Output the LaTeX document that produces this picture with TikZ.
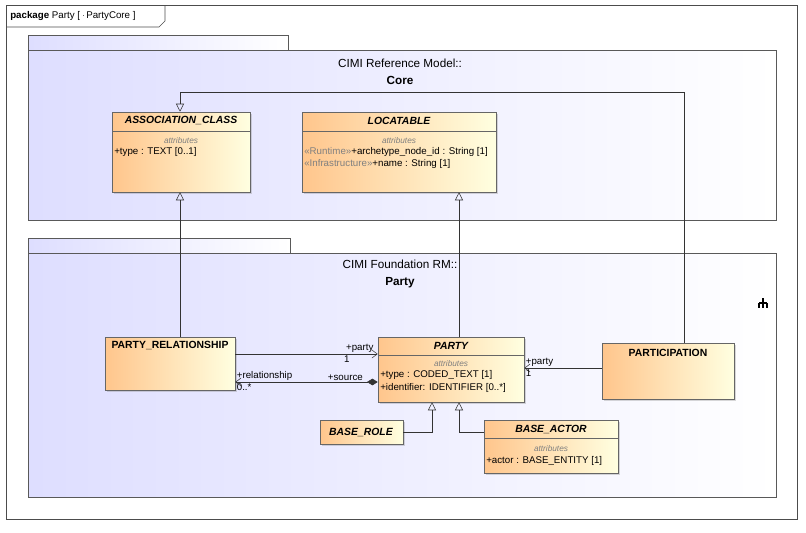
\documentclass[tikz,border=0pt]{standalone}
\usepackage{fontspec}
\setmainfont{Liberation Sans}
\usetikzlibrary{arrows.meta, positioning, fit, shadows}

\tikzset{
  pkg/.style={draw=gray!70!black, left color=blue!13, right color=white, inner sep=0},
  cls/.style={draw=black!60, left color=orange!45, right color=yellow!12, inner sep=0,
    drop shadow={opacity=0.3, shadow xshift=1.5pt, shadow yshift=-1.5pt}},
  cname/.style={font=\fontsize{7.8}{9}\selectfont\bfseries\itshape},
  attr/.style={font=\fontsize{7.3}{8.5}\selectfont, inner sep=0, anchor=west},
  stereo/.style={font=\fontsize{6.2}{7}\selectfont\itshape, text=gray},
  lbl/.style={font=\fontsize{7.3}{8.5}\selectfont, inner sep=1pt},
  gen/.style={-{Triangle[open, length=6pt, width=6pt]}, draw=black!80},
  assoc/.style={-{Straight Barb[length=4pt, width=6pt]}, draw=black!80}
}

\begin{document}
\begin{tikzpicture}[x=0.75pt, y=-0.75pt]
\useasboundingbox (0,0) rectangle (806,532);

% frame
\node (frame) [draw=black!70, fit={(6,5)(797,519)}, inner sep=0] {};
\draw[black!70] (6,27) -- (159,27) -- (165,21) -- (165,5);
\node (title) [anchor=west, font=\fontsize{7.3}{8.5}\selectfont, inner sep=0] at (10,16)
  {\textbf{package} Party [ \tikz[baseline=-2.5pt]{\draw[black!60, fill=white] (0,-0.12) rectangle (0.3,0.2); \draw[black!60] (0.06,0.1) -- (0.24,0.1) (0.06,0) -- (0.24,0);} PartyCore ]};

% packages
\node (coreTab) [pkg, fit={(28,35)(288,50)}] {};
\node (core) [pkg, fit={(28,50)(776,220)}] {};
\node (coreName) [font=\fontsize{8.8}{10}\selectfont, align=center] at (400,72)
  {CIMI Reference Model::\\[3pt] \textbf{Core}};
\node (fndTab) [pkg, fit={(28,238)(290,253)}] {};
\node (fnd) [pkg, fit={(28,253)(776,497)}] {};
\node (fndName) [font=\fontsize{8.8}{10}\selectfont, align=center] at (400,274)
  {CIMI Foundation RM::\\[3pt] \textbf{Party}};
\draw[black, line width=0.8pt] (763,298) -- (763,308) (759,303) -- (767,303) (759,303) -- (759,308) (767,303) -- (767,308);

% classes in Core
\node (assocCls) [cls, fit={(112,112)(250,192)}] {};
\node [cname] at (181,121) {ASSOCIATION\_CLASS};
\draw[black!60] (112,131) -- (250,131);
\node [stereo] at (181,141) {attributes};
\node [attr] at (114,152) {+type : TEXT [0..1]};

\node (locCls) [cls, fit={(302,112)(496,192)}] {};
\node [cname] at (399,121) {LOCATABLE};
\draw[black!60] (302,131) -- (496,131);
\node [stereo] at (399,141) {attributes};
\node [attr] at (304,152) {\textcolor{gray}{«Runtime»}+archetype\_node\_id : String [1]};
\node [attr] at (304,164) {\textcolor{gray}{«Infrastructure»}+name : String [1]};

% classes in Party
\node (relCls) [cls, fit={(105,337)(235,390)}] {};
\node [cname, font=\fontsize{7.8}{9}\selectfont\bfseries] at (170,345) {PARTY\_RELATIONSHIP};

\node (partyCls) [cls, fit={(378,337)(524,402)}] {};
\node [cname] at (451,346) {PARTY};
\draw[black!60] (378,355) -- (524,355);
\node [stereo] at (451,364) {attributes};
\node [attr] at (380,375) {+type : CODED\_TEXT [1]};
\node [attr] at (380,388) {+identifier: IDENTIFIER [0..*]};

\node (partCls) [cls, fit={(602,343)(734,399)}] {};
\node [cname, font=\fontsize{7.8}{9}\selectfont\bfseries] at (668,353) {PARTICIPATION};

\node (roleCls) [cls, fit={(320,420)(403,444)}] {};
\node [cname] at (361,432) {BASE\_ROLE};

\node (actorCls) [cls, fit={(484,420)(618,473)}] {};
\node [cname] at (551,429) {BASE\_ACTOR};
\draw[black!60] (484,438) -- (618,438);
\node [stereo] at (551,449) {attributes};
\node [attr] at (486,461) {+actor : BASE\_ENTITY [1]};

% generalizations
\draw[gen] (relCls.north -| 180,0) -- (assocCls.south -| 180,0);
\draw[gen] (partyCls.north -| 459,0) -- (locCls.south -| 459,0);
\draw[gen] (partCls.north -| 684,0) |- (180,92) -- (assocCls.north -| 180,0);
\draw[gen] (roleCls.east) -| (partyCls.south -| 432,0);
\draw[gen] (actorCls.west |- 0,432) -| (partyCls.south -| 459,0);

% associations
\draw[assoc] (relCls.east |- 0,354) -- (partyCls.west |- 0,354)
  node[lbl, pos=1, above left, xshift=-2pt] {+party} node[lbl, pos=1, below left, xshift=-20pt] {1};
\draw[assoc, {Diamond[length=8pt, width=5pt]}-{Straight Barb[length=4pt, width=6pt]}]
  (partyCls.west |- 0,382) -- (relCls.east |- 0,382)
  node[lbl, pos=0, above left, xshift=-10pt] {+source}
  node[lbl, pos=1, above right] {+relationship}
  node[lbl, pos=1, below right] {0..*};
\draw[assoc] (partCls.west |- 0,368) -- (partyCls.east |- 0,368)
  node[lbl, pos=1, above right] {+party} node[lbl, pos=1, below right] {1};
\end{tikzpicture}
\end{document}
